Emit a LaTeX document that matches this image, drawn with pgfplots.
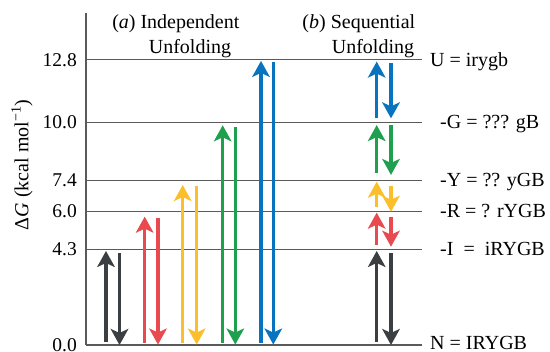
\documentclass[border=0pt]{standalone}
\usepackage{pgfplots}
\pgfplotsset{compat=1.18}
\usepackage{fontspec}
\setmainfont{Liberation Serif}
\usetikzlibrary{arrows.meta}
\definecolor{cdark}{HTML}{3C3F41}
\definecolor{cred}{HTML}{E84A4F}
\definecolor{cyellow}{HTML}{FBBF2B}
\definecolor{cgreen}{HTML}{1EA04E}
\definecolor{cblue}{HTML}{0874C0}
\definecolor{gridgray}{HTML}{5A5A5A}
\newcommand\fs{\fontsize{20}{24}\selectfont}
\tikzset{arr/.style={line width=3.2pt, -{Stealth[length=16pt,width=17.5pt,inset=4pt]}},
  slab/.style={anchor=base west, yshift=-6.6pt, inner sep=0pt, font=\fs}}
\begin{document}
\begin{tikzpicture}
\useasboundingbox (-86pt,-7pt) rectangle (464pt,345pt);
\begin{axis}[
 at={(0pt,0pt)}, anchor=south west,
 scale only axis, width=336pt, height=332pt,
 xmin=86, xmax=422, ymin=0, ymax=14.9,
 axis x line=none, axis y line=left,
 y axis line style={-, draw=gridgray, line width=1.3pt},
 ytick={0,4.3,6,7.4,10,12.8},
 yticklabels={0.0,4.3,6.0,7.4,10.0,12.8},
 ymajorgrids, grid style={draw=gridgray, line width=1.2pt},
 major tick length=0pt,
 yticklabel style={font=\fontsize{19.5}{22}\selectfont, inner sep=0pt, xshift=-9pt},
 /pgf/number format/assume math mode=true,
 clip=false,
]
% (a) Independent unfolding
\addplot[arr, cdark]   coordinates {(106,0.12) (106,4.22)};
\addplot[arr, cdark]   coordinates {(119.5,4.13) (119.5,0.0)};
\addplot[arr, cred]    coordinates {(144.7,0.1) (144.7,5.76)};
\addplot[arr, cred]    coordinates {(158,5.7) (158,0.02)};
\addplot[arr, cyellow] coordinates {(182.7,0.1) (182.7,7.18)};
\addplot[arr, cyellow] coordinates {(196.7,7.12) (196.7,0.02)};
\addplot[arr, cgreen]  coordinates {(222.7,0.1) (222.7,9.86)};
\addplot[arr, cgreen]  coordinates {(235.3,9.8) (235.3,0.02)};
\addplot[arr, cblue]   coordinates {(261,0.1) (261,12.75)};
\addplot[arr, cblue]   coordinates {(273.3,12.68) (273.3,0.02)};
% (b) Sequential unfolding
\addplot[arr, cdark]   coordinates {(376.7,0.12) (376.7,4.22)};
\addplot[arr, cdark]   coordinates {(391,4.13) (391,0.0)};
\addplot[arr, cred]    coordinates {(376.7,4.49) (376.7,5.94)};
\addplot[arr, cred]    coordinates {(391,5.76) (391,4.41)};
\addplot[arr, cyellow] coordinates {(376.7,6.21) (376.7,7.33)};
\addplot[arr, cyellow] coordinates {(391,7.14) (391,5.98)};
\addplot[arr, cgreen]  coordinates {(376.7,7.71) (376.7,9.87)};
\addplot[arr, cgreen]  coordinates {(391,9.87) (391,7.63)};
\addplot[arr, cblue]   coordinates {(376.7,10.17) (376.7,12.72)};
\addplot[arr, cblue]   coordinates {(391,12.64) (391,10.17)};
% state labels
\node[slab] at (axis cs:430,12.8) {U = irygb};
\node[slab] at (axis cs:440,10.0) {-G = ??? gB};
\node[slab] at (axis cs:440,7.4) {-Y = ?? yGB};
\node[slab] at (axis cs:440,6.0) {-R = ? rYGB};
\node[slab] at (axis cs:440,4.3) {-I \ = \ iRYGB};
\node[slab, yshift=1.8pt] at (axis cs:430,0.0) {N = IRYGB};
% titles
\node[anchor=base, font=\fs] at (axis cs:190,14.22) {\llap{(\textit{a}) }Independent};
\node[anchor=base, font=\fs] at (axis cs:190,13.08) {Unfolding};
\node[anchor=base, font=\fs] at (axis cs:373,14.22) {\llap{(\textit{b}) }Sequential};
\node[anchor=base, font=\fs] at (axis cs:373,13.08) {Unfolding};
% y label
\node[rotate=90, font=\fs] at (axis cs:22,8.08) {Δ\textit{G} (kcal mol\textsuperscript{−1})};
\end{axis}
\end{tikzpicture}
\end{document}
